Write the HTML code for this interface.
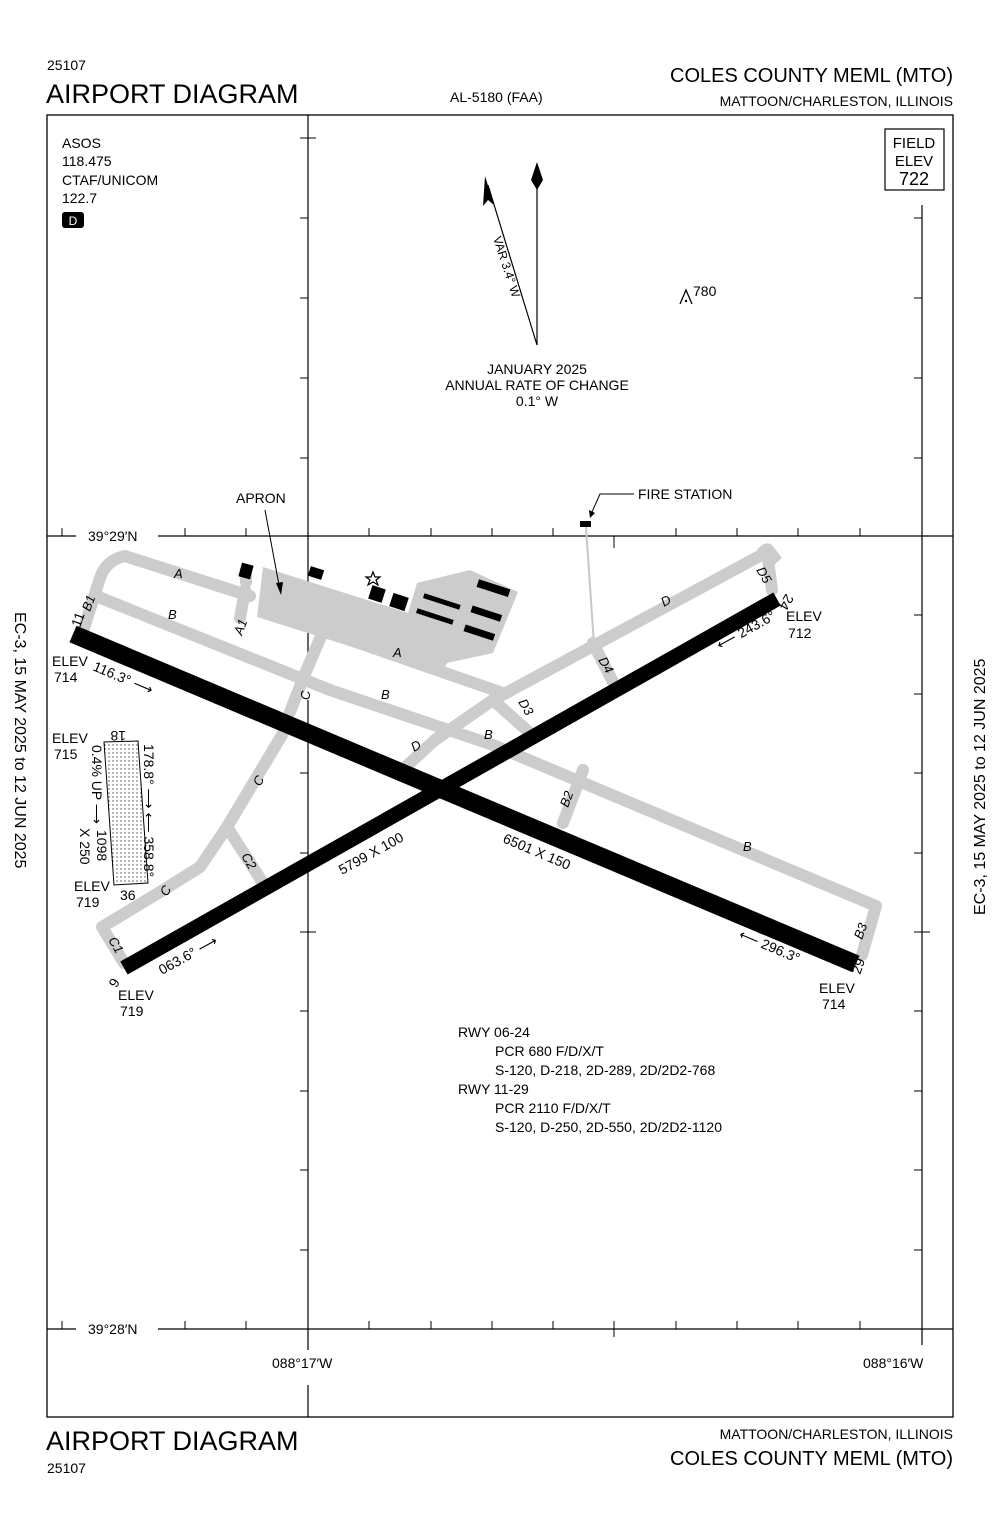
<!DOCTYPE html>
<html><head><meta charset="utf-8"><style>
html,body{margin:0;padding:0;background:#fff}
svg{display:block}
text{font-family:"Liberation Sans",sans-serif;fill:#000}
</style></head><body>
<svg width="1000" height="1533" viewBox="0 0 1000 1533" xmlns="http://www.w3.org/2000/svg">
<defs>
<pattern id="dots" width="4" height="4" patternUnits="userSpaceOnUse"><circle cx="1" cy="1" r="0.6" fill="#000"/></pattern>
</defs>
<!-- header -->
<text x="47" y="70" font-size="14">25107</text>
<text x="46" y="103" font-size="27">AIRPORT DIAGRAM</text>
<text x="450" y="102" font-size="14">AL-5180 (FAA)</text>
<text x="953" y="82" font-size="20" text-anchor="end">COLES COUNTY MEML (MTO)</text>
<text x="953" y="106" font-size="14" text-anchor="end">MATTOON/CHARLESTON, ILLINOIS</text>
<!-- footer -->
<text x="46" y="1450" font-size="27">AIRPORT DIAGRAM</text>
<text x="47" y="1473" font-size="14">25107</text>
<text x="953" y="1439" font-size="14" text-anchor="end">MATTOON/CHARLESTON, ILLINOIS</text>
<text x="953" y="1465" font-size="20" text-anchor="end">COLES COUNTY MEML (MTO)</text>
<!-- side labels -->
<text transform="translate(15,612) rotate(90)" font-size="16">EC-3,  15 MAY 2025  to  12 JUN 2025</text>
<text transform="translate(985,915) rotate(-90)" font-size="16">EC-3,  15 MAY 2025  to  12 JUN 2025</text>
<!-- frame -->
<rect x="47" y="115" width="906" height="1302" fill="none" stroke="#000" stroke-width="1.3"/>
<g stroke="#000" stroke-width="1.2" fill="none">
<line x1="47" y1="536" x2="76" y2="536"/><line x1="158" y1="536" x2="953" y2="536"/>
<line x1="47" y1="1329" x2="76" y2="1329"/><line x1="158" y1="1329" x2="953" y2="1329"/>
<line x1="308" y1="115" x2="308" y2="680"/><line x1="308" y1="700" x2="308" y2="1350"/><line x1="308" y1="1385" x2="308" y2="1417"/>
<line x1="922" y1="205" x2="922" y2="1345"/>
</g>
<g stroke="#000" stroke-width="1">
<line x1="62" y1="528" x2="62" y2="536"/><line x1="185" y1="528" x2="185" y2="536"/><line x1="246" y1="528" x2="246" y2="536"/><line x1="369" y1="528" x2="369" y2="536"/><line x1="431" y1="528" x2="431" y2="536"/><line x1="492" y1="528" x2="492" y2="536"/><line x1="553" y1="528" x2="553" y2="536"/><line x1="614" y1="536" x2="614" y2="548"/><line x1="676" y1="528" x2="676" y2="536"/><line x1="737" y1="528" x2="737" y2="536"/><line x1="798" y1="528" x2="798" y2="536"/><line x1="860" y1="528" x2="860" y2="536"/>
<line x1="62" y1="1321" x2="62" y2="1329"/><line x1="185" y1="1321" x2="185" y2="1329"/><line x1="246" y1="1321" x2="246" y2="1329"/><line x1="369" y1="1321" x2="369" y2="1329"/><line x1="431" y1="1321" x2="431" y2="1329"/><line x1="492" y1="1321" x2="492" y2="1329"/><line x1="553" y1="1321" x2="553" y2="1329"/><line x1="614" y1="1321" x2="614" y2="1337"/><line x1="676" y1="1321" x2="676" y2="1329"/><line x1="737" y1="1321" x2="737" y2="1329"/><line x1="798" y1="1321" x2="798" y2="1329"/><line x1="860" y1="1321" x2="860" y2="1329"/>
<line x1="300" y1="138" x2="316" y2="138"/><line x1="300" y1="218" x2="308" y2="218"/><line x1="300" y1="298" x2="308" y2="298"/><line x1="300" y1="378" x2="308" y2="378"/><line x1="300" y1="458" x2="308" y2="458"/><line x1="300" y1="615" x2="308" y2="615"/><line x1="300" y1="773" x2="308" y2="773"/><line x1="300" y1="853" x2="308" y2="853"/><line x1="300" y1="932" x2="316" y2="932"/><line x1="300" y1="1011" x2="308" y2="1011"/><line x1="300" y1="1091" x2="308" y2="1091"/><line x1="300" y1="1170" x2="308" y2="1170"/><line x1="300" y1="1250" x2="308" y2="1250"/>
<line x1="914" y1="218" x2="922" y2="218"/><line x1="914" y1="298" x2="922" y2="298"/><line x1="914" y1="378" x2="922" y2="378"/><line x1="914" y1="458" x2="922" y2="458"/><line x1="914" y1="615" x2="922" y2="615"/><line x1="914" y1="694" x2="922" y2="694"/><line x1="914" y1="773" x2="922" y2="773"/><line x1="914" y1="853" x2="922" y2="853"/><line x1="914" y1="932" x2="930" y2="932"/><line x1="914" y1="1011" x2="922" y2="1011"/><line x1="914" y1="1091" x2="922" y2="1091"/><line x1="914" y1="1170" x2="922" y2="1170"/><line x1="914" y1="1250" x2="922" y2="1250"/>
</g>
<text x="88" y="541" font-size="14">39°29′N</text>
<text x="88" y="1334" font-size="14">39°28′N</text>
<text x="272" y="1368" font-size="14">088°17′W</text>
<text x="863" y="1368" font-size="14">088°16′W</text>
<!-- info -->
<text x="62" y="148" font-size="14">ASOS</text>
<text x="62" y="166" font-size="14">118.475</text>
<text x="62" y="185" font-size="14">CTAF/UNICOM</text>
<text x="62" y="203" font-size="14">122.7</text>
<rect x="62" y="212" width="22" height="16" rx="3" fill="#000"/>
<text x="73" y="225" font-size="12" text-anchor="middle" style="fill:#fff">D</text>
<rect x="885" y="129" width="59" height="61" fill="none" stroke="#000" stroke-width="1.2"/>
<text x="914" y="148" font-size="15" text-anchor="middle">FIELD</text>
<text x="914" y="166" font-size="15" text-anchor="middle">ELEV</text>
<text x="914" y="185" font-size="18" text-anchor="middle">722</text>
<!-- north arrows -->
<line x1="537" y1="345" x2="537" y2="180" stroke="#000" stroke-width="1.2"/>
<polygon points="537,162 543,180 537,190 531,180" fill="#000"/>
<line x1="537" y1="345" x2="488" y2="185" stroke="#000" stroke-width="1.2"/>
<polygon points="485,176 494,205 488,200 483,206" fill="#000"/>
<text transform="translate(493,238) rotate(72)" font-size="12">VAR 3.4° W</text>
<text x="537" y="374" font-size="14" text-anchor="middle">JANUARY 2025</text>
<text x="537" y="390" font-size="14" text-anchor="middle">ANNUAL RATE OF CHANGE</text>
<text x="537" y="406" font-size="14" text-anchor="middle">0.1° W</text>
<path d="M680,304 L686,290 L692,304" fill="none" stroke="#000" stroke-width="1.3"/>
<circle cx="686" cy="301" r="1.2" fill="#000"/>
<text x="693" y="296" font-size="14">780</text>
<!-- fire station -->
<text x="638" y="499" font-size="14">FIRE STATION</text>
<path d="M634,494 L600,494 L592,512" fill="none" stroke="#000" stroke-width="1"/>
<polygon points="589,510 595,513 590,518" fill="#000"/>
<rect x="580" y="521" width="11" height="6" fill="#000"/>
<line x1="586" y1="527" x2="594" y2="645" stroke="#c8c8c8" stroke-width="2"/>
<text x="236" y="503" font-size="14">APRON</text>
<!-- taxiways -->
<g stroke="#cccccc" stroke-width="12" fill="none" stroke-linejoin="round" stroke-linecap="round">
<path d="M84,628 L100,578 Q106,560 125,556 L250,596"/>
<path d="M96,596 L330,690 L493,745 L876,906"/>
<path d="M876,906 L862,955"/>
<path d="M245,590 L240,618"/>
<path d="M246,582 L246,570"/>
<path d="M322,634 L304,676 L290,712"/>
<path d="M282,735 L227,827 L200,867 L160,892 L102,927 L124,963"/>
<path d="M227,827 L263,883"/>
<path d="M400,772 L435,740 L493,700 L767,552 L772,590"/>
<path d="M493,700 L531,734"/>
<path d="M593,643 L613,682"/>
<path d="M583,770 L563,823"/>
<path d="M330,633 L500,692"/>
</g>
<polygon points="263,567 408,613 417,583 470,570 518,592 493,653 447,663 440,675 330,640 257,617" fill="#cccccc"/>
<path d="M757,550 Q765,540 772,545 L782,558 L773,566 Z" fill="#cccccc"/>
<!-- apron arrow -->
<line x1="265" y1="510" x2="279" y2="585" stroke="#000" stroke-width="1"/>
<polygon points="281,595 276,583 283,582" fill="#000"/>
<!-- buildings -->
<g fill="#000">
<rect x="240" y="564" width="12" height="14" transform="rotate(15 246 571)"/>
<rect x="309" y="568" width="14" height="10" transform="rotate(18 316 573)"/>
<rect x="370" y="587" width="14" height="14" transform="rotate(18 377 594)"/>
<rect x="391" y="595" width="16" height="14" transform="rotate(18 399 602)"/>
<rect x="423" y="599" width="38" height="5" transform="rotate(18 442 601)"/>
<rect x="416" y="614" width="38" height="5" transform="rotate(18 435 616)"/>
<rect x="477" y="584" width="33" height="8" transform="rotate(18 493 588)"/>
<rect x="471" y="610" width="31" height="7" transform="rotate(18 486 613)"/>
<rect x="464" y="629" width="31" height="7" transform="rotate(18 479 632)"/>
</g>
<polygon points="373,572 375,577 380,577 376,580 378,585 373,582 368,585 370,580 366,577 371,577" fill="#fff" stroke="#000" stroke-width="1.2"/>
<!-- closed runway -->
<polygon points="104,742 138,741 148,883 114,885" fill="url(#dots)" stroke="#000" stroke-width="1"/>
<!-- runways -->
<line x1="73" y1="634" x2="856" y2="964" stroke="#000" stroke-width="18"/>
<line x1="124" y1="968" x2="777" y2="599" stroke="#000" stroke-width="15"/>
<!-- taxiway labels -->
<g font-size="13" font-style="italic">
<text x="174" y="578">A</text><text x="393" y="657">A</text>
<text x="168" y="619">B</text><text x="381" y="699">B</text><text x="484" y="739">B</text><text x="743" y="851">B</text>
<text transform="translate(242,636) rotate(-70)">A1</text>
<text transform="translate(90,612) rotate(-70)">B1</text>
<text transform="translate(310,700) rotate(-90)">C</text>
<text transform="translate(260,787) rotate(-60)">C</text>
<text transform="translate(167,897) rotate(-60)">C</text>
<text transform="translate(241,856) rotate(60)">C2</text>
<text transform="translate(108,940) rotate(60)">C1</text>
<text transform="translate(414,752) rotate(-30)">D</text>
<text transform="translate(664,607) rotate(-30)">D</text>
<text transform="translate(518,702) rotate(60)">D3</text>
<text transform="translate(598,660) rotate(60)">D4</text>
<text transform="translate(756,570) rotate(60)">D5</text>
<text transform="translate(568,808) rotate(-70)">B2</text>
<text transform="translate(862,940) rotate(-70)">B3</text>
</g>
<!-- runway labels -->
<g font-size="14">
<text transform="translate(80,628) rotate(-70)">11</text>
<text transform="translate(786,593) rotate(120)">24</text>
<text transform="translate(860,975) rotate(-70)">29</text>
<text transform="translate(112,977) rotate(120)">6</text>
<text x="52" y="666">ELEV</text><text x="54" y="682">714</text>
<text x="786" y="621">ELEV</text><text x="788" y="638">712</text>
<text x="819" y="993">ELEV</text><text x="822" y="1009">714</text>
<text x="118" y="1000">ELEV</text><text x="120" y="1016">719</text>
<text x="52" y="743">ELEV</text><text x="54" y="759">715</text>
<text x="74" y="891">ELEV</text><text x="76" y="907">719</text>
<text transform="translate(92,670) rotate(23)">116.3° ⟶</text>
<text transform="translate(720,650) rotate(-29)">⟵ 243.6°</text>
<text transform="translate(738,938) rotate(23)">⟵ 296.3°</text>
<text transform="translate(162,975) rotate(-29)">063.6° ⟶</text>
<text transform="translate(342,875) rotate(-29)">5799 X 100</text>
<text transform="translate(502,842) rotate(23)">6501 X 150</text>
<text transform="translate(126,731) rotate(180)">18</text>
<text x="120" y="900">36</text>
<text transform="translate(92,745) rotate(90)">0.4% UP ⟶</text>
<text transform="translate(144,744) rotate(90)">178.8° ⟶  ⟵ 358.8°</text>
<text transform="translate(97,830) rotate(90)">1098</text>
<text transform="translate(80,828) rotate(90)">X 250</text>
</g>
<!-- notes -->
<g font-size="14">
<text x="458" y="1037">RWY 06-24</text>
<text x="495" y="1056">PCR 680 F/D/X/T</text>
<text x="495" y="1075">S-120, D-218, 2D-289, 2D/2D2-768</text>
<text x="458" y="1094">RWY 11-29</text>
<text x="495" y="1113">PCR 2110 F/D/X/T</text>
<text x="495" y="1132">S-120, D-250, 2D-550, 2D/2D2-1120</text>
</g>
</svg>
</body></html>
